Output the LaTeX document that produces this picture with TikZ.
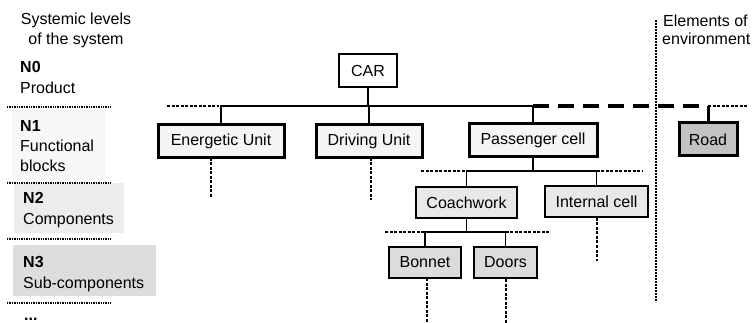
\documentclass[tikz,border=0pt]{standalone}
\usepackage{fontspec}
\setmainfont{Liberation Sans}
\usepackage{tikz}
\usetikzlibrary{positioning}
\definecolor{LevOne}{HTML}{F7F7F7}
\definecolor{LevTwo}{HTML}{ECECEC}
\definecolor{LevThree}{HTML}{DDDDDD}
\definecolor{UnitFill}{HTML}{F5F5F5}
\definecolor{CompFill}{HTML}{E8E8E8}
\definecolor{SubFill}{HTML}{DCDCDC}
\definecolor{EnvFill}{HTML}{C2C2C2}

\begin{document}
\begin{tikzpicture}[x=1pt,y=-1pt,
 txt/.style={font=\fontsize{16}{19}\selectfont,inner sep=0pt,anchor=base west},
 box/.style={draw,inner sep=0pt,font=\fontsize{16}{19}\selectfont},
 product/.style={box,line width=1.6pt,fill=white,minimum height=33pt},
 unit/.style={box,line width=3pt,fill=UnitFill,minimum height=33pt},
 comp/.style={box,line width=2pt,fill=CompFill,minimum height=31pt},
 subcomp/.style={box,line width=2pt,fill=SubFill,minimum height=31pt},
 envbox/.style={box,line width=3pt,fill=EnvFill,minimum height=33pt},
 link/.style={line width=1.8pt},
 envlink/.style={line width=4pt,dash pattern=on 16pt off 9pt},
 stub/.style={line width=1.2pt,dash pattern=on 3pt off 1.5pt},
 drop/.style={line width=2pt,dash pattern=on 3pt off 1.5pt},
 levelsep/.style={line width=2pt,dash pattern=on 1.4pt off 1pt},
 border/.style={line width=2.5pt,dash pattern=on 2pt off 1pt}]
\useasboundingbox (0,0) rectangle (755,323);

\fill[LevOne] (12,110) rectangle (105,180);
\fill[LevTwo] (14,183) rectangle (124,233);
\fill[LevThree] (13,245) rectangle (156,296);

\node[txt,anchor=base] (title1) at (76,25) {Systemic levels};
\node[txt,anchor=base] (title2) at (76,45) {of the system};
\node[txt] (n0) at (20,73) {\textbf{N0}};
\node[txt] (n0a) at (20,94) {Product};
\node[txt] (n1) at (20,132) {\textbf{N1}};
\node[txt] (n1a) at (20,152) {Functional};
\node[txt] (n1b) at (20,172) {blocks};
\node[txt] (n2) at (23,204) {\textbf{N2}};
\node[txt] (n2a) at (23,225) {Components};
\node[txt] (n3) at (23,267) {\textbf{N3}};
\node[txt] (n3a) at (23,288) {Sub-components};
\node[txt] (more) at (24,320.5) {\textbf{...}};
\draw[levelsep] (7,107) -- (111,107);
\draw[levelsep] (7,183) -- (111,183);
\draw[levelsep] (7,239) -- (111,239);
\draw[levelsep] (7,303) -- (111,303);

\node[txt] (env1) at (663,27) {Elements of};
\node[txt] (env2) at (662,45) {environment};
\coordinate (envtop) at (656,20);
\coordinate (envbot) at (656,302);
\draw[border] (envtop) -- (envbot);

\node[product,minimum width=58pt] (car) at (368,70.5) {CAR};
\node[unit,minimum width=126pt] (energ) at (221,141) {Energetic Unit};
\node[unit,minimum width=106pt] (driv) at (369,141) {Driving Unit};
\node[unit,minimum width=128pt] (pass) at (533,140.5) {Passenger cell};
\node[envbox,minimum width=58pt] (road) at (708,139.5) {Road};
\node[comp,minimum width=101pt] (coach) at (466.5,202.5) {Coachwork};
\node[comp,minimum width=103pt] (inner) at (596.5,201.5) {Internal cell};
\node[subcomp,minimum width=72pt] (bonnet) at (425,262.5) {Bonnet};
\node[subcomp,minimum width=63pt] (doors) at (505.5,262.5) {Doors};

\coordinate (bus1) at (0,106);
\coordinate (bus2) at (0,171);
\coordinate (bus3) at (0,232);
\draw[link] (car.south) -- (car.south |- bus1);
\draw[link] (energ.north) -- (energ.north |- bus1) -- (pass.north |- bus1) -- (pass.north);
\draw[link] (driv.north) -- (driv.north |- bus1);
\draw[envlink] (pass.north |- bus1) -- (road.north |- bus1);
\draw[line width=3pt] (road.north |- bus1) -- (road.north);
\draw[stub] (167,106) -- (219,106);
\draw[stub] (road.north |- bus1) -- (747,106);

\draw[link] (pass.south) -- (pass.south |- bus2);
\draw[link] (coach.north) -- (coach.north |- bus2) -- (inner.north |- bus2) -- (inner.north);
\draw[stub] (421,171) -- (coach.north |- bus2);
\draw[stub] (inner.north |- bus2) -- (642,171);

\draw[link] (coach.south) -- (coach.south |- bus3);
\draw[link] (bonnet.north) -- (bonnet.north |- bus3) -- (doors.north |- bus3) -- (doors.north);
\draw[stub] (385,232) -- (bonnet.north |- bus3);
\draw[stub] (doors.north |- bus3) -- (550,232);

\draw[drop] (211,158) -- (211,198);
\draw[drop] (371,158) -- (371,200);
\draw[drop] (inner.south) -- ++(0,43);
\draw[drop] (427,278) -- (427,323);
\draw[drop] (doors.south) -- ++(0,45);
\end{tikzpicture}
\end{document}
